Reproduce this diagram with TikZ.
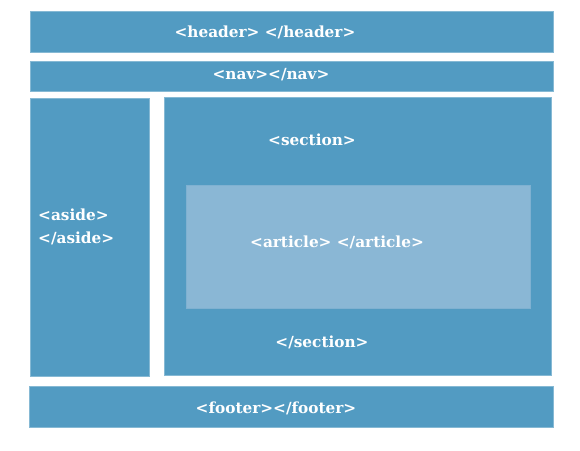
\documentclass[tikz,border=0pt]{standalone}
\usepackage{fontspec}
\setmainfont{DejaVu Serif}
\usepackage{tikz}
\usetikzlibrary{positioning}

\definecolor{boxblue}{RGB}{82,155,194}
\definecolor{boxlight}{RGB}{138,183,213}

\tikzset{
  block/.style={fill=boxblue, draw=boxblue!70!white, line width=0.4pt, inner sep=0pt},
  inner block/.style={fill=boxlight, draw=boxlight!80!boxblue, line width=0.4pt, inner sep=0pt},
  tag/.style={text=white, font=\bfseries\fontsize{15.3}{18}\selectfont, inner sep=0pt}
}

\begin{document}
\begin{tikzpicture}[x=1pt, y=-1pt]
\useasboundingbox (0,0) rectangle (580,450);

% boxes
\node (header) [block, minimum width=523pt, minimum height=41pt] at (291.5,31.5) {};
\node (nav) [block, minimum width=523pt, minimum height=30pt] at (291.5,76) {};
\node (aside) [block, minimum width=119pt, minimum height=278pt] at (89.5,237) {};
\node (section) [block, minimum width=387pt, minimum height=278pt] at (357.5,236) {};
\node (article) [inner block, minimum width=344pt, minimum height=123pt] at (358,246.5) {};
\node (footer) [block, minimum width=524pt, minimum height=41pt] at (291,406.5) {};

% tags
\node (headertag) [tag] at (265,32) {<header> </header>};
\node (navtag) [tag] at (271,75) {<nav></nav>};
\node (asideopen) [tag, anchor=west] at (38,215) {<aside>};
\node (asideclose) [tag, anchor=west] at (38,238) {</aside>};
\node (sectionopen) [tag] at (312,140) {<section>};
\node (articletag) [tag] at (337,242) {<article> </article>};
\node (sectionclose) [tag] at (322,342) {</section>};
\node (footertag) [tag] at (276,408) {<footer></footer>};
\end{tikzpicture}
\end{document}
